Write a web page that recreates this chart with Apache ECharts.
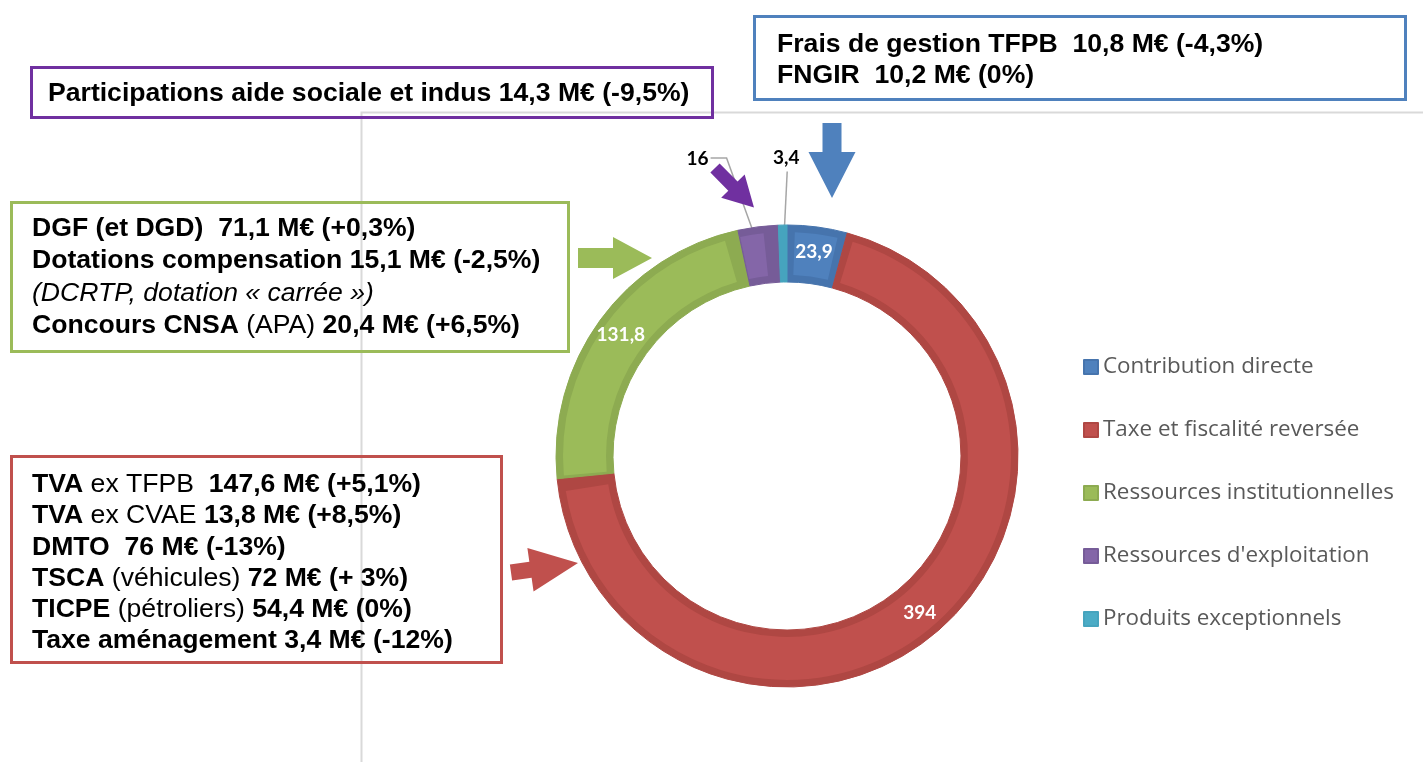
<!DOCTYPE html>
<html><head><meta charset="utf-8">
<script src="https://cdn.jsdelivr.net/npm/echarts@6/dist/echarts.min.js"></script>
<style>html,body{margin:0;padding:0;background:#fff}#c{width:1423px;height:762px}</style>
</head><body><div id="c"></div>
<script>
// ---- data ----
const categories = ['Contribution directe', 'Taxe et fiscalité reversée', 'Ressources institutionnelles', "Ressources d'exploitation", 'Produits exceptionnels'];
const values = [23.9, 394, 131.8, 16, 3.4];
const valueLabels = ['23,9', '394', '131,8', '16', '3,4'];
const labelOutside = [false, false, false, true, true];

// ---- styles ----
const innerColors = ['#4F81BD', '#C0504D', '#9BBB59', '#8466A8', '#4BACC6'];
const baseColors = ['#4674AD', '#AF4743', '#8DAB51', '#765C98', '#46A4BE'];
const CX = 787, CY = 456, R0 = 174, R1 = 231, INSET = 7;
const RM = (R0 + R1) / 2;
const labelOffsets = {3: [-64, -96], 4: [3, -96]};
const TF = "'Liberation Sans', Arial, sans-serif";
const FS = 26.6;

function arrow(tail, tip, sw, hw, hl) {
  const dx = tip[0] - tail[0], dy = tip[1] - tail[1];
  const L = Math.hypot(dx, dy), ux = dx / L, uy = dy / L, nx = -uy, ny = ux;
  const bx = tip[0] - ux * hl, by = tip[1] - uy * hl;
  return [
    [tail[0] + nx * sw / 2, tail[1] + ny * sw / 2],
    [bx + nx * sw / 2, by + ny * sw / 2],
    [bx + nx * hw / 2, by + ny * hw / 2],
    tip,
    [bx - nx * hw / 2, by - ny * hw / 2],
    [bx - nx * sw / 2, by - ny * sw / 2],
    [tail[0] - nx * sw / 2, tail[1] - ny * sw / 2]
  ];
}
function rich(lh) {
  return {
    b: {fontFamily: TF, fontSize: FS, fontWeight: 'bold', lineHeight: lh, fill: '#000'},
    r: {fontFamily: TF, fontSize: FS, fontWeight: 'normal', lineHeight: lh, fill: '#000'},
    i: {fontFamily: TF, fontSize: FS, fontStyle: 'italic', fontWeight: 'normal', lineHeight: lh, fill: '#000'}
  };
}
function textEl(x, y, text, lh) {
  return {type: 'text', x: x, y: y, z: 20, silent: true,
    style: {text: text, rich: rich(lh), font: 'bold ' + FS + 'px ' + TF, fill: '#000', verticalAlign: 'top', align: 'left', lineHeight: lh}};
}
function box(x1, y1, x2, y2, color) {
  return {type: 'rect', z: 15, silent: true, shape: {x: x1, y: y1, width: x2 - x1, height: y2 - y1},
    style: {fill: null, stroke: color, lineWidth: 3}};
}
function poly(pts, color) {
  return {type: 'polygon', z: 15, silent: true, shape: {points: pts}, style: {fill: color}};
}

const chart = echarts.init(document.getElementById('c'), null, {renderer: 'canvas'});
chart.setOption({
  backgroundColor: '#fff',
  animation: false,
  legend: {
    orient: 'vertical', left: 1083, top: 355, padding: 0, itemWidth: 14, itemHeight: 14, itemGap: 39,
    icon: 'rect', selectedMode: false,
    textStyle: {fontFamily: "'Open Sans', sans-serif", fontSize: 22.4, color: '#595959', lineHeight: 24},
    data: categories.map((n, i) => ({name: n, itemStyle: {color: innerColors[i]}}))
  },
  series: [
    {
      type: 'pie', name: 'base', center: [CX, CY], radius: [R0, R1], startAngle: 90, clockwise: true,
      avoidLabelOverlap: false, silent: true,
      data: categories.map((n, i) => ({
        name: n, value: values[i],
        itemStyle: {color: baseColors[i], borderColor: baseColors[i], borderWidth: 1},
        label: labelOutside[i] ? {position: 'outside', color: '#000', fontSize: 19} : {},
        labelLine: {show: labelOutside[i]}
      })),
      label: {show: true, position: 'inside', formatter: p => valueLabels[p.dataIndex],
        color: '#fff', fontFamily: 'Lato', fontWeight: 'bold', fontSize: 19},
      labelLine: {show: false, showAbove: true, lineStyle: {color: '#a6a6a6', width: 1.5}},
      labelLayout: function (p) {
        const off = labelOffsets[p.dataIndex];
        if (!off) return {};
        let ax, ay;
        const pts = p.labelLinePoints;
        if (pts && pts[0]) {
          const dx = pts[0][0] - CX, dy = pts[0][1] - CY, d = Math.hypot(dx, dy) || 1;
          ax = CX + dx / d * RM; ay = CY + dy / d * RM;
        } else { return {}; }
        const lx = ax + off[0], ly = ay + off[1];
        let line;
        if (p.dataIndex === 3) line = [[lx + 13, ly - 1], [lx + 29, ly - 1], [ax, ay]];
        else line = [[lx + 1, ly + 14], [lx + 1, ly + 14], [ax, ay]];
        return {x: lx, y: ly, align: 'center', verticalAlign: 'middle', labelLinePoints: line};
      }
    },
    {
      type: 'pie', name: 'inner', center: [CX, CY], radius: [R0 + INSET, R1 - INSET], startAngle: 90, clockwise: true,
      padAngle: 4, silent: true, label: {show: false}, labelLine: {show: false},
      data: categories.map((n, i) => ({name: n, value: values[i], itemStyle: {color: innerColors[i], borderWidth: 0}}))
    }
  ],
  graphic: {elements: [
    {type: 'polyline', z: 1, silent: true, shape: {points: [[1423, 112.5], [361.5, 112.5], [361.5, 762]]}, style: {stroke: '#D9D9D9', lineWidth: 2, fill: null}},
    box(31.5, 67.5, 712.5, 117.5, '#7030A0'),
    box(754.5, 16.5, 1405.5, 99.5, '#4F81BD'),
    box(11.5, 202.5, 568.5, 351.5, '#9BBB59'),
    box(11.5, 456.5, 501.5, 662.5, '#C0504D'),
    textEl(48, 77.5, '{b|Participations aide sociale et indus 14,3 M€ (-9,5%)}', 32),
    textEl(777, 29, '{b|Frais de gestion TFPB  10,8 M€ (-4,3%)}\n{b|FNGIR  10,2 M€ (0%)}', 31),
    textEl(32, 212.5, '{b|DGF (et DGD)  71,1 M€ (+0,3%)}\n{b|Dotations compensation 15,1 M€ (-2,5%)}\n{i|(DCRTP, dotation « carrée »)}\n{b|Concours CNSA }{r|(APA) }{b|20,4 M€ (+6,5%)}', 32.3),
    textEl(32, 469.2, '{b|TVA }{r|ex TFPB  }{b|147,6 M€ (+5,1%)}\n{b|TVA }{r|ex CVAE }{b|13,8 M€ (+8,5%)}\n{b|DMTO  76 M€ (-13%)}\n{b|TSCA }{r|(véhicules) }{b|72 M€ (+ 3%)}\n{b|TICPE }{r|(pétroliers) }{b|54,4 M€ (0%)}\n{b|Taxe aménagement 3,4 M€ (-12%)}', 31.2),
    poly(arrow([832, 123], [832, 198], 19, 47, 46), '#4F81BD'),
    poly(arrow([715, 168], [754, 207.5], 13, 33, 30), '#7030A0'),
    poly(arrow([578, 258], [652, 258], 20, 42, 39), '#9BBB59'),
    poly(arrow([511, 572.5], [578, 563], 16, 44, 48), '#C0504D')
  ]}
});
</script></body></html>
